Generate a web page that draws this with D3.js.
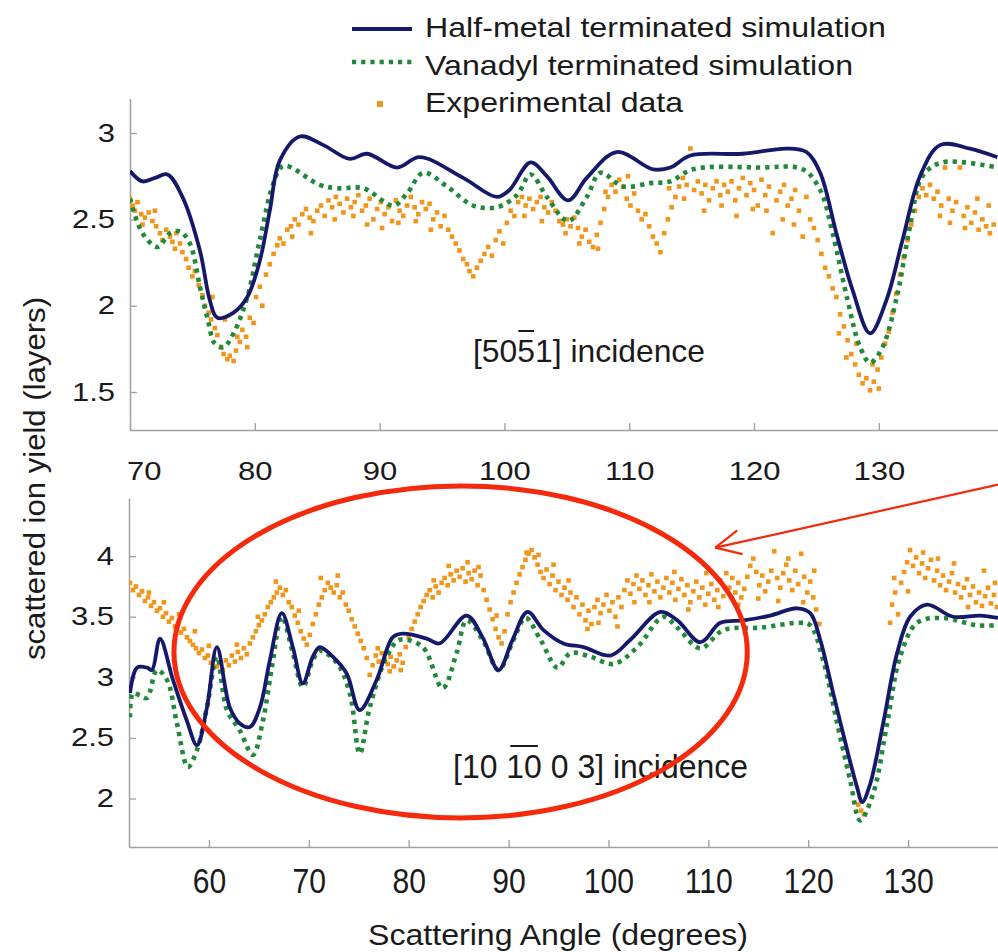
<!DOCTYPE html>
<html>
<head>
<meta charset="utf-8">
<script src="https://cdn.jsdelivr.net/npm/d3@7"></script>
<style>
  html, body { margin: 0; padding: 0; background: #fff; }
  svg { display: block; }
  text { font-family: "Liberation Sans", Arial, sans-serif; fill: #1a1a1a; }
</style>
</head>
<body>
<svg id="chart" width="998" height="952"></svg>
<script>
// ---------------- DATA ----------------
const seriesNames = ["Half-metal terminated simulation", "Vanadyl terminated simulation", "Experimental data"];
const topXTicks = [70, 80, 90, 100, 110, 120, 130];
const topYTicks = [1.5, 2, 2.5, 3];
const botXTicks = [60, 70, 80, 90, 100, 110, 120, 130];
const botYTicks = [2, 2.5, 3, 3.5, 4];
const topLabel = "[5051] incidence";
const botLabel = "[10 10 0 3] incidence";
const xTitle = "Scattering Angle (degrees)";
const yTitle = "scattered ion yield (layers)";

// Top panel: [5 0 -5 1] incidence
const halfMetalTop = [[70,2.78],[71.0,2.72],[72.0,2.74],[73.0,2.76],[74.2,2.63],[75.6,2.32],[76.4,2.03],[77.0,1.93],[78.3,1.96],[79.4,2.05],[80.4,2.26],[81.2,2.55],[82.0,2.84],[83.6,2.98],[85.5,2.93],[87.6,2.85],[89.0,2.88],[91.4,2.80],[93.2,2.86],[96.7,2.74],[99.4,2.63],[100.4,2.67],[102.1,2.83],[103.4,2.75],[105.1,2.61],[106.6,2.74],[109.0,2.89],[111.9,2.79],[113.3,2.80],[114.9,2.87],[119.1,2.88],[122.6,2.91],[124.2,2.89],[125.3,2.77],[126.6,2.42],[127.9,2.09],[129.3,1.84],[130.6,2.03],[131.9,2.38],[133.3,2.75],[134.9,2.93],[137.3,2.91],[139.5,2.86]];
const vanadylTop = [[70,2.62],[71.0,2.42],[72.2,2.34],[73.2,2.42],[74.0,2.43],[74.8,2.36],[75.6,2.11],[76.2,1.93],[76.8,1.78],[77.5,1.76],[78.3,1.84],[79.4,2.05],[80.4,2.38],[81.5,2.71],[82.3,2.81],[85.2,2.70],[86.6,2.68],[88.7,2.68],[91.1,2.58],[92.2,2.65],[93.5,2.77],[95.4,2.69],[97.5,2.58],[99.4,2.57],[101.0,2.64],[102.1,2.76],[103.4,2.63],[105.1,2.49],[106.6,2.63],[107.7,2.77],[109.5,2.69],[111.7,2.71],[113.3,2.72],[115.1,2.79],[120.5,2.80],[123.9,2.79],[125.3,2.67],[126.3,2.42],[127.5,2.03],[128.5,1.76],[129.3,1.67],[130.3,1.76],[131.5,2.07],[132.5,2.46],[133.5,2.75],[135.1,2.83],[139.5,2.80]];
const experimentalTop = [[70.0,2.62],[70.2,2.58],[70.4,2.55],[70.6,2.60],[70.9,2.53],[71.2,2.51],[71.5,2.54],[71.8,2.49],[72.1,2.46],[72.4,2.42],[72.6,2.38],[72.9,2.44],[73.2,2.40],[73.4,2.37],[73.7,2.42],[74.0,2.36],[74.2,2.31],[74.5,2.27],[74.7,2.22],[75.0,2.17],[75.2,2.20],[75.5,2.12],[75.8,2.06],[76.0,2.00],[76.3,1.96],[76.5,1.92],[76.8,1.87],[77.0,1.83],[77.3,1.76],[77.5,1.72],[77.8,1.69],[78.0,1.71],[78.3,1.68],[78.5,1.74],[78.8,1.79],[79.0,1.86],[79.3,1.82],[79.6,1.93],[79.9,1.90],[80.1,2.05],[80.4,2.11],[80.6,2.00],[80.9,2.18],[81.2,2.24],[81.5,2.30],[81.8,2.35],[82.0,2.39],[82.3,2.36],[82.6,2.44],[82.9,2.46],[83.2,2.50],[83.5,2.47],[83.8,2.53],[84.1,2.56],[84.4,2.51],[84.7,2.49],[85.0,2.55],[85.3,2.58],[85.6,2.52],[85.9,2.61],[86.2,2.57],[86.5,2.63],[86.8,2.59],[87.1,2.54],[87.4,2.62],[87.7,2.57],[88.0,2.60],[88.3,2.64],[88.6,2.55],[88.9,2.58],[89.2,2.62],[89.5,2.50],[89.8,2.56],[90.1,2.60],[90.4,2.53],[90.7,2.57],[91.0,2.49],[91.3,2.61],[91.6,2.55],[91.9,2.52],[92.2,2.58],[92.5,2.63],[92.8,2.57],[93.1,2.53],[93.4,2.60],[93.7,2.56],[94.0,2.59],[94.3,2.50],[94.6,2.54],[94.9,2.46],[95.2,2.52],[95.5,2.44],[95.8,2.40],[96.1,2.36],[96.4,2.32],[96.7,2.27],[97.0,2.24],[97.2,2.20],[97.5,2.17],[97.8,2.22],[98.1,2.26],[98.4,2.30],[98.7,2.34],[99.0,2.29],[99.3,2.38],[99.6,2.43],[99.9,2.36],[100.2,2.48],[100.5,2.55],[100.8,2.52],[101.1,2.60],[101.4,2.63],[101.7,2.58],[102.0,2.62],[102.3,2.56],[102.6,2.60],[102.9,2.63],[103.2,2.57],[103.5,2.54],[103.8,2.60],[104.1,2.55],[104.4,2.49],[104.7,2.47],[105.0,2.50],[105.3,2.46],[105.6,2.51],[105.9,2.45],[106.2,2.40],[106.5,2.44],[106.8,2.37],[107.1,2.34],[107.4,2.41],[107.7,2.48],[108.0,2.56],[108.3,2.63],[108.6,2.70],[108.9,2.66],[109.2,2.73],[109.5,2.69],[109.8,2.62],[110.1,2.58],[110.4,2.65],[110.7,2.55],[111.0,2.50],[111.3,2.53],[111.6,2.46],[111.9,2.40],[112.2,2.36],[112.5,2.31],[112.8,2.42],[113.1,2.50],[113.4,2.57],[113.7,2.63],[114.0,2.69],[114.3,2.74],[114.6,2.70],[114.9,2.91],[115.2,2.67],[115.5,2.72],[115.8,2.65],[116.1,2.70],[116.4,2.61],[116.7,2.68],[117.0,2.72],[117.3,2.64],[117.6,2.70],[117.9,2.66],[118.2,2.72],[118.5,2.61],[118.8,2.68],[119.1,2.74],[119.4,2.64],[119.7,2.71],[120.0,2.67],[120.3,2.58],[120.6,2.73],[120.9,2.64],[121.2,2.69],[121.5,2.42],[121.8,2.61],[122.1,2.66],[122.4,2.70],[122.7,2.58],[123.0,2.62],[123.3,2.67],[123.6,2.55],[123.9,2.40],[124.2,2.63],[124.5,2.50],[124.8,2.45],[125.1,2.38],[125.4,2.30],[125.7,2.22],[126.0,2.17],[126.3,2.10],[126.6,2.05],[126.9,1.95],[127.2,1.88],[127.5,1.80],[127.8,1.72],[128.1,1.66],[128.4,1.60],[128.7,1.55],[129.0,1.58],[129.3,1.51],[129.6,1.56],[129.9,1.63],[130.2,1.70],[130.5,1.78],[130.8,1.85],[131.1,1.96],[131.4,2.07],[131.7,2.18],[132.0,2.28],[132.3,2.38],[132.6,2.47],[132.9,2.55],[133.2,2.63],[133.5,2.68],[133.8,2.64],[134.1,2.70],[134.4,2.62],[134.7,2.66],[135.0,2.58],[135.3,2.80],[135.6,2.62],[135.9,2.55],[136.2,2.60],[136.5,2.80],[136.8,2.52],[137.1,2.57],[137.4,2.48],[137.7,2.54],[138.0,2.44],[138.3,2.50],[138.6,2.46],[138.9,2.42],[139.2,2.47],
  [86.4,2.50],[87.9,2.52],[89.0,2.47],[90.2,2.45],[91.5,2.48],[92.9,2.49],[94.1,2.44],[101.6,2.52],[103.0,2.49],[104.9,2.42],[106.0,2.36],[107.5,2.33],[108.1,2.66],[109.9,2.75],[116.0,2.55],[117.4,2.58],[118.6,2.52],[119.9,2.56],[121.0,2.55],[122.3,2.50],[123.2,2.47],[113.2,2.68],[114.4,2.62],[134.9,2.52],[135.7,2.48],[136.9,2.45],[137.9,2.62],[138.8,2.58],[76.6,2.05],[77.6,1.92],[78.6,1.82],[79.4,1.76],[127.4,1.70],[128.2,1.78],[129.5,1.66],[130.0,1.52],[126.8,1.84],[83.0,2.40],[84.5,2.42],[72.0,2.55],[71.0,2.47],[73.6,2.33]];

// Bottom panel: [10 -10 0 3] incidence
const halfMetalBot = [[52.1,2.87],[52.8,3.08],[53.8,3.08],[54.3,3.06],[55.1,3.32],[56.4,2.98],[57.8,2.64],[58.8,2.44],[59.8,2.75],[60.8,3.25],[62.1,2.75],[63.1,2.62],[64.1,2.59],[65.1,2.75],[66.1,3.14],[67.3,3.53],[68.4,3.25],[69.4,2.95],[70.4,3.17],[71.1,3.25],[72.4,3.17],[73.8,3.03],[75.1,2.73],[76.8,2.98],[78.4,3.33],[79.4,3.36],[81.8,3.32],[83.1,3.28],[85.8,3.51],[87.4,3.33],[89.0,3.06],[90.4,3.31],[91.9,3.54],[93.5,3.39],[95.5,3.28],[97.5,3.25],[100.2,3.18],[102.2,3.31],[105.2,3.54],[106.9,3.47],[109.2,3.29],[111.2,3.45],[113.5,3.47],[116.2,3.51],[118.9,3.57],[120.2,3.53],[121.2,3.31],[122.5,2.87],[123.9,2.40],[124.9,2.09],[125.4,1.97],[126.2,2.12],[127.5,2.62],[128.9,3.20],[130.2,3.50],[131.9,3.60],[134.5,3.50],[137.2,3.51],[139,3.49]];
const vanadylBot = [[52.1,2.67],[52.4,2.87],[53.1,2.85],[53.8,2.83],[54.8,3.06],[55.8,2.98],[56.8,2.62],[57.9,2.26],[58.8,2.40],[59.8,2.75],[60.8,3.17],[61.8,2.73],[63.1,2.56],[64.4,2.36],[65.4,2.64],[66.3,3.08],[67.3,3.50],[68.4,3.20],[69.4,2.92],[70.4,3.14],[71.1,3.22],[72.8,3.12],[74.1,2.87],[75.1,2.37],[76.1,2.75],[77.8,3.17],[79.1,3.31],[81.4,3.25],[83.4,2.91],[84.8,3.20],[85.8,3.47],[87.4,3.31],[89.0,3.06],[90.5,3.31],[91.7,3.49],[93.2,3.31],[94.9,3.08],[96.2,3.20],[98.2,3.17],[100.5,3.11],[102.9,3.25],[105.5,3.50],[106.9,3.41],[109.2,3.24],[111.5,3.39],[115.2,3.41],[119.2,3.45],[120.2,3.43],[121.5,3.14],[122.9,2.62],[124.2,2.15],[125.2,1.82],[126.5,2.04],[127.9,2.62],[129.2,3.17],[130.9,3.45],[133.5,3.49],[136.9,3.43],[139,3.43]];
const experimentalBot = [[52.1,3.78],[52.4,3.72],[52.7,3.75],[53.0,3.68],[53.3,3.71],[53.6,3.63],[53.9,3.66],[54.2,3.59],[54.5,3.62],[54.8,3.55],[55.1,3.57],[55.4,3.50],[55.7,3.53],[56.0,3.46],[56.3,3.49],[56.6,3.42],[56.9,3.44],[57.2,3.37],[57.5,3.40],[57.8,3.33],[58.1,3.30],[58.4,3.27],[58.7,3.24],[59.0,3.20],[59.3,3.23],[59.6,3.16],[59.9,3.18],[60.2,3.12],[60.5,3.15],[60.8,3.09],[61.1,3.12],[61.4,3.06],[61.7,3.14],[62.0,3.10],[62.3,3.18],[62.6,3.13],[62.9,3.21],[63.2,3.16],[63.5,3.24],[63.8,3.19],[64.1,3.28],[64.4,3.33],[64.7,3.38],[65.0,3.43],[65.3,3.47],[65.6,3.52],[65.9,3.58],[66.2,3.62],[66.5,3.66],[66.8,3.70],[67.1,3.74],[67.4,3.68],[67.7,3.72],[68.0,3.62],[68.3,3.58],[68.6,3.51],[68.9,3.45],[69.2,3.38],[69.5,3.32],[69.8,3.27],[70.1,3.35],[70.4,3.44],[70.7,3.52],[71.0,3.60],[71.3,3.66],[71.6,3.72],[71.9,3.78],[72.2,3.74],[72.5,3.70],[72.8,3.76],[73.1,3.66],[73.4,3.70],[73.7,3.60],[74.0,3.55],[74.3,3.48],[74.6,3.42],[74.9,3.36],[75.2,3.30],[75.5,3.24],[75.8,3.16],[76.1,3.02],[76.4,3.10],[76.7,3.18],[77.0,3.13],[77.3,3.20],[77.6,3.15],[77.9,3.11],[78.2,3.17],[78.5,3.09],[78.8,3.14],[79.1,3.19],[79.4,3.12],[79.7,3.25],[80.0,3.33],[80.3,3.40],[80.6,3.46],[80.9,3.52],[81.2,3.58],[81.5,3.63],[81.8,3.68],[82.1,3.72],[82.4,3.66],[82.7,3.75],[83.0,3.70],[83.3,3.78],[83.6,3.82],[83.9,3.76],[84.2,3.85],[84.5,3.80],[84.8,3.88],[85.1,3.83],[85.4,3.90],[85.7,3.79],[86.0,3.86],[86.3,3.81],[86.6,3.88],[86.9,3.76],[87.2,3.84],[87.5,3.72],[87.8,3.64],[88.1,3.56],[88.4,3.48],[88.7,3.40],[89.0,3.33],[89.3,3.28],[89.6,3.38],[89.9,3.52],[90.2,3.62],[90.5,3.70],[90.8,3.78],[91.1,3.85],[91.4,3.91],[91.7,3.97],[92.0,4.02],[92.3,4.05],[92.6,3.99],[92.9,3.93],[93.2,3.87],[93.5,3.82],[93.8,3.89],[94.1,3.77],[94.4,3.84],[94.7,3.72],[95.0,3.79],[95.3,3.68],[95.6,3.74],[95.9,3.64],[96.2,3.70],[96.5,3.58],[96.8,3.66],[97.1,3.52],[97.4,3.60],[97.7,3.47],[98.0,3.55],[98.3,3.44],[98.6,3.58],[98.9,3.64],[99.2,3.53],[99.5,3.60],[99.8,3.68],[100.1,3.55],[100.4,3.62],[100.7,3.50],[101.0,3.66],[101.3,3.58],[101.6,3.72],[101.9,3.80],[102.2,3.69],[102.5,3.77],[102.8,3.84],[103.1,3.73],[103.4,3.80],[103.7,3.68],[104.0,3.76],[104.3,3.85],[104.6,3.71],[104.9,3.79],[105.2,3.66],[105.5,3.74],[105.8,3.82],[106.1,3.70],[106.4,3.78],[106.7,3.64],[107.0,3.73],[107.3,3.81],[107.6,3.68],[107.9,3.76],[108.2,3.62],[108.5,3.71],[108.8,3.79],[109.1,3.66],[109.4,3.74],[109.7,3.60],[110.0,3.69],[110.3,3.77],[110.6,3.64],[110.9,3.72],[111.2,3.80],[111.5,3.67],[111.8,3.86],[112.1,3.74],[112.4,3.82],[112.7,3.70],[113.0,3.78],[113.3,3.66],[113.6,3.73],[113.9,3.83],[114.2,3.92],[114.5,3.98],[114.8,3.87],[115.1,3.76],[115.4,3.84],[115.7,3.71],[116.0,3.79],[116.3,3.88],[116.6,4.04],[116.9,3.82],[117.2,3.74],[117.5,3.86],[117.8,3.93],[118.1,3.80],[118.4,3.72],[118.7,3.88],[119.0,3.77],[119.3,4.02],[119.6,3.83],[119.9,3.70],[120.2,3.79],[120.5,3.66],[120.8,3.56],[121.1,3.44],[125.0,1.95],[125.3,1.90],[125.6,1.87],[128.2,3.45],[128.4,3.60],[128.7,3.70],[129.0,3.52],[129.3,3.78],[129.6,3.87],[129.9,3.95],[130.2,4.05],[130.5,3.92],[130.8,3.99],[131.1,3.86],[131.4,3.94],[131.7,3.82],[132.0,3.90],[132.3,3.97],[132.6,3.80],[132.9,3.88],[133.2,3.76],[133.5,3.84],[133.8,3.72],[134.1,3.79],[134.4,3.86],[134.7,3.70],[135.0,3.77],[135.3,3.66],[135.6,3.74],[135.9,3.81],[136.2,3.68],[136.5,3.75],[136.8,3.62],[137.1,3.70],[137.4,3.59],[137.7,3.67],[138.0,3.74],[138.3,3.61],[138.6,3.68],[138.9,3.58],
  [54.0,3.70],[55.5,3.62],[57.0,3.52],[58.6,3.38],[60.0,3.26],[62.8,3.27],[64.9,3.50],[66.7,3.79],[69.0,3.55],[71.2,3.82],[72.9,3.84],[76.9,3.24],[78.1,3.05],[79.2,3.06],[82.5,3.80],[84.0,3.92],[85.9,3.95],[87.0,3.91],[88.8,3.51],[91.8,4.03],[93.0,4.01],[94.5,3.93],[96.0,3.80],[97.9,3.40],[99.0,3.45],[100.9,3.42],[102.6,3.62],[104.1,3.62],[106.6,3.87],[108.0,3.56],[109.8,3.86],[111.0,3.58],[113.0,3.60],[115.0,3.65],[117.0,3.63],[118.0,3.98],[119.5,3.62],[120.6,3.88],[128.6,3.82],[130.0,3.71],[131.5,4.03],[133.0,3.98],[134.6,3.94],[136.0,3.58],[137.6,3.88],[138.7,3.78]];

// Annotation (red ellipse and arrow) in bottom-panel data units
const ellipseCenter = [85.2, 3.21];
const ellipseRadii = [28.7, 1.37];
const arrowFrom = [139.0, 4.59];
const arrowTo = [110.7, 4.07];

// ---------------- STYLE ----------------
const NAVY = "#16186a", GREEN = "#22883a", ORANGE = "#f0961c", RED = "#f5290c", AXIS = "#a0a0a0";

const svg = d3.select("#chart");

const topX = d3.scaleLinear().domain([70, 139.55]).range([130, 998]);
const topY = d3.scaleLinear().domain([1.28, 3.2]).range([430, 98.5]);
const botX = d3.scaleLinear().domain([52, 139]).range([129, 998]);
const botY = d3.scaleLinear().domain([1.6, 4.48]).range([847, 498]);

function styleAxis(g) {
  g.select(".domain").attr("stroke", AXIS).attr("stroke-width", 1.5);
  g.selectAll(".tick line").attr("stroke", AXIS).attr("stroke-width", 1.3);
}

function drawPanel(xs, ys, xTicks, yTicks, hm, va, ex, opts) {
  const g = svg.append("g");
  const [x0, x1] = xs.range();
  const [y0, y1] = ys.range();
  const ya = g.append("g").attr("transform", `translate(${x0},0)`)
    .call(d3.axisLeft(ys).tickValues(yTicks).tickFormat(d => String(d)).tickSizeInner(-7).tickSizeOuter(0).tickPadding(12));
  styleAxis(ya);
  ya.selectAll("text").attr("font-size", 25).attr("fill", "#1a1a1a")
    .attr("transform", "scale(1.24,1)");
  const xa = g.append("g").attr("transform", `translate(0,${y0})`)
    .call(d3.axisBottom(xs).tickValues(xTicks).tickFormat(d => String(d)).tickSizeInner(-7).tickSizeOuter(0));
  styleAxis(xa);
  xa.selectAll("text").attr("font-size", opts.xFont).attr("fill", "#1a1a1a")
    .attr("y", opts.xLabelDy).attr("dy", 0)
    .attr("transform", `scale(${opts.xScale},1)`);
  if (opts.firstNudge) xa.selectAll(".tick").filter((d, i) => i === 0).select("text").attr("x", opts.firstNudge);

  const clipId = "clip" + Math.round(y0);
  svg.append("clipPath").attr("id", clipId).append("rect")
    .attr("x", x0).attr("y", y1 - 20).attr("width", x1 - x0).attr("height", y0 - y1 + 30);
  const plot = g.append("g").attr("clip-path", `url(#${clipId})`);

  const line = d3.line().x(d => xs(d[0])).y(d => ys(d[1])).curve(d3.curveCatmullRom.alpha(0.5));
  plot.append("g").selectAll("rect").data(ex).join("rect")
    .attr("x", d => xs(d[0]) - 2.3).attr("y", d => ys(d[1]) - 2.3)
    .attr("width", 4.6).attr("height", 4.6).attr("fill", ORANGE);
  plot.append("path").datum(va).attr("d", line).attr("fill", "none")
    .attr("stroke", GREEN).attr("stroke-width", 4.6).attr("stroke-dasharray", "4.2,5");
  plot.append("path").datum(hm).attr("d", line).attr("fill", "none")
    .attr("stroke", NAVY).attr("stroke-width", 3.8).attr("stroke-linejoin", "round");
  return g;
}

drawPanel(topX, topY, topXTicks, topYTicks, halfMetalTop, vanadylTop, experimentalTop,
  { xFont: 25, xScale: 1.24, xLabelDy: 50, firstNudge: 11 });
drawPanel(botX, botY, botXTicks, botYTicks, halfMetalBot, vanadylBot, experimentalBot,
  { xFont: 35, xScale: 0.86, xLabelDy: 46 });

function label(x, y, s, size, len, anchor, rot) {
  const t = svg.append("text").attr("x", x).attr("y", y).attr("font-size", size)
    .attr("text-anchor", anchor || "start").text(s);
  if (len) t.attr("textLength", len).attr("lengthAdjust", "spacingAndGlyphs");
  if (rot) t.attr("transform", `rotate(${rot},${x},${y})`);
  return t;
}
function overbar(t, i0, i1, inset) {
  const n = t.node();
  const a = n.getExtentOfChar(i0), b = n.getExtentOfChar(i1);
  svg.append("line").attr("x1", a.x + inset).attr("x2", b.x + b.width - inset)
    .attr("y1", a.y - 2).attr("y2", a.y - 2).attr("stroke", "#1a1a1a").attr("stroke-width", 2);
}

const t1 = label(473, 362, topLabel, 32, 232);
overbar(t1, 3, 3, 1);
const t2 = label(453, 778, botLabel, 33, 295);
overbar(t2, 4, 5, 4);

label(368, 945, xTitle, 30, 380);
label(45, 660, yTitle, 30, 363, "start", -90);

const lg = svg.append("g");
lg.append("line").attr("x1", 352).attr("x2", 412).attr("y1", 29).attr("y2", 29)
  .attr("stroke", NAVY).attr("stroke-width", 4);
lg.append("line").attr("x1", 352).attr("x2", 412).attr("y1", 62).attr("y2", 62)
  .attr("stroke", GREEN).attr("stroke-width", 4.6).attr("stroke-dasharray", "4.2,5");
lg.append("rect").attr("x", 377).attr("y", 101).attr("width", 6).attr("height", 6).attr("fill", ORANGE);
label(425, 37, seriesNames[0], 28, 461);
label(425, 75, seriesNames[1], 28, 428);
label(425, 112, seriesNames[2], 28, 258);

const ex = botX(ellipseCenter[0]), ey = botY(ellipseCenter[1]);
const rx = botX(ellipseCenter[0] + ellipseRadii[0]) - ex;
const ry = ey - botY(ellipseCenter[1] + ellipseRadii[1]);
svg.append("ellipse").attr("cx", ex).attr("cy", ey).attr("rx", rx).attr("ry", ry)
  .attr("fill", "none").attr("stroke", RED).attr("stroke-width", 5);
const ax0 = botX(arrowFrom[0]), ay0 = botY(arrowFrom[1]);
const ax1 = botX(arrowTo[0]), ay1 = botY(arrowTo[1]);
svg.append("line").attr("x1", ax0).attr("y1", ay0).attr("x2", ax1).attr("y2", ay1)
  .attr("stroke", RED).attr("stroke-width", 2.2);
const ang = Math.atan2(ay0 - ay1, ax0 - ax1);
const hl = 28, spread = 0.45;
[ang - spread, ang + spread].forEach(a => {
  svg.append("line").attr("x1", ax1).attr("y1", ay1)
    .attr("x2", ax1 + hl * Math.cos(a)).attr("y2", ay1 + hl * Math.sin(a))
    .attr("stroke", RED).attr("stroke-width", 2.2);
});
</script>
</body>
</html>
